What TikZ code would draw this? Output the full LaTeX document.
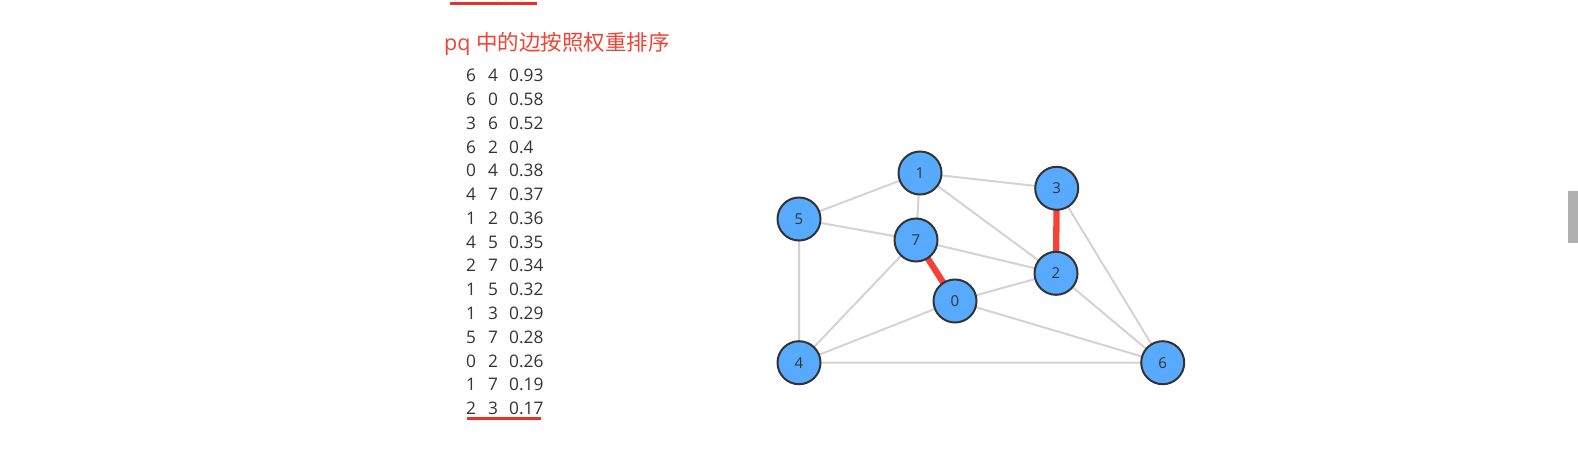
\documentclass[tikz,border=0pt]{standalone}
\usepackage{fontspec}
\setmainfont{Open Sans}
\newfontfamily\cjkfont{Noto Sans CJK SC}
\definecolor{txtgray}{HTML}{333333}
\definecolor{titlered}{HTML}{EE4433}
\definecolor{linered}{HTML}{E8312A}
\definecolor{edgegray}{HTML}{D3D3D3}
\definecolor{edgered}{HTML}{F44336}
\definecolor{nodeblue}{HTML}{58AAFF}
\definecolor{nodeborder}{HTML}{333333}
\definecolor{barcol}{HTML}{B0B0B0}
\newcommand{\rowtxt}[3]{\makebox[22pt][l]{#1}\makebox[21pt][l]{#2}#3}
\tikzset{
  rowstyle/.style={anchor=west, inner sep=0pt, text=txtgray, font=\fontsize{17.3}{17.3}\selectfont},
  vtx/.style={circle, draw=nodeborder, line width=2pt, fill=nodeblue, minimum size=43pt, inner sep=0pt, text=txtgray, font=\fontsize{15}{15}\selectfont},
  gedge/.style={draw=edgegray, line width=2pt},
  redge/.style={draw=edgered, line width=6.3pt},
  uline/.style={draw=linered, line width=2.6pt}
}
\begin{document}
\begin{tikzpicture}[x=1pt,y=-1pt]
\useasboundingbox (0,0) rectangle (1578,473);
% cut-off row at top
\node[rowstyle] (r0) at (450,-5.5) {\rowtxt{0}{4}{0.15}};
\coordinate (u0a) at (450,3.5);
\coordinate (u0b) at (537,3.5);
\draw[uline] (u0a) -- (u0b);
% title
\node[anchor=west, inner sep=0pt, text=titlered, font=\fontsize{21.5}{21.5}\selectfont] (title) at (444,44.3) {pq \cjkfont 中的边按照权重排序};
% rows
\node[rowstyle] (r1) at (466,75.5) {\rowtxt{6}{4}{0.93}};
\node[rowstyle] (r2) at (466,99.3) {\rowtxt{6}{0}{0.58}};
\node[rowstyle] (r3) at (466,123.1) {\rowtxt{3}{6}{0.52}};
\node[rowstyle] (r4) at (466,146.9) {\rowtxt{6}{2}{0.4}};
\node[rowstyle] (r5) at (466,170.7) {\rowtxt{0}{4}{0.38}};
\node[rowstyle] (r6) at (466,194.5) {\rowtxt{4}{7}{0.37}};
\node[rowstyle] (r7) at (466,218.2) {\rowtxt{1}{2}{0.36}};
\node[rowstyle] (r8) at (466,242.0) {\rowtxt{4}{5}{0.35}};
\node[rowstyle] (r9) at (466,265.8) {\rowtxt{2}{7}{0.34}};
\node[rowstyle] (r10) at (466,289.6) {\rowtxt{1}{5}{0.32}};
\node[rowstyle] (r11) at (466,313.4) {\rowtxt{1}{3}{0.29}};
\node[rowstyle] (r12) at (466,337.2) {\rowtxt{5}{7}{0.28}};
\node[rowstyle] (r13) at (466,361.0) {\rowtxt{0}{2}{0.26}};
\node[rowstyle] (r14) at (466,384.8) {\rowtxt{1}{7}{0.19}};
\node[rowstyle] (r15) at (466,408.6) {\rowtxt{2}{3}{0.17}};
\coordinate (u1a) at (467,418.3);
\coordinate (u1b) at (541,418.3);
\draw[uline] (u1a) -- (u1b);
% graph
\coordinate (p1) at (920,173);
\coordinate (p3) at (1056.7,188.3);
\coordinate (p5) at (799,219);
\coordinate (p7) at (916,240);
\coordinate (p2) at (1056,273.3);
\coordinate (p0) at (955,301);
\coordinate (p4) at (799,362.7);
\coordinate (p6) at (1162.7,362.7);
\draw[gedge] (p1)--(p5) (p1)--(p3) (p1)--(p7) (p1)--(p2) (p5)--(p7) (p5)--(p4)
  (p7)--(p2) (p7)--(p4) (p0)--(p4) (p0)--(p2) (p0)--(p6) (p4)--(p6) (p2)--(p6) (p3)--(p6);
\draw[redge] (p7)--(p0) (p3)--(p2);
\node[vtx] (n1) at (p1) {1};
\node[vtx] (n3) at (p3) {3};
\node[vtx] (n5) at (p5) {5};
\node[vtx] (n7) at (p7) {7};
\node[vtx] (n2) at (p2) {2};
\node[vtx] (n0) at (p0) {0};
\node[vtx] (n4) at (p4) {4};
\node[vtx] (n6) at (p6) {6};
% scrollbar
\fill[barcol] (1568,191) rectangle (1578,242.7);
\end{tikzpicture}
\end{document}
